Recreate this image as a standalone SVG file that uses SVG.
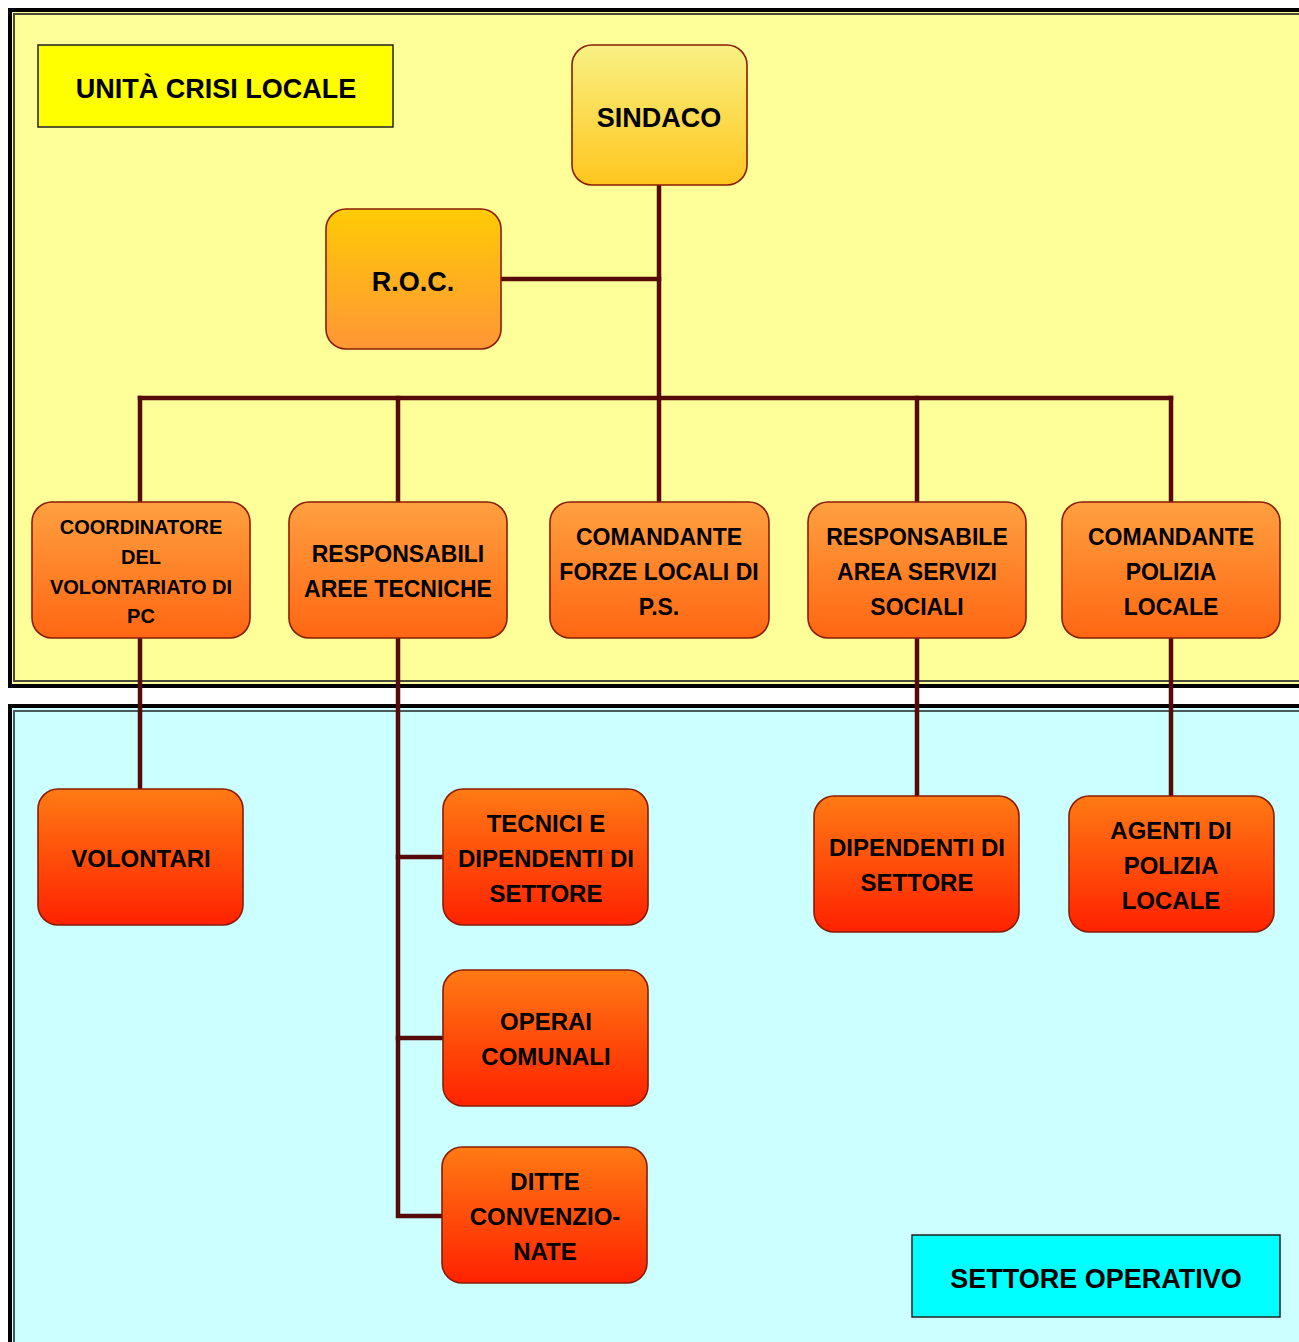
<svg xmlns="http://www.w3.org/2000/svg" width="1299" height="1342" viewBox="0 0 1299 1342">
<defs>
<linearGradient id="gSindaco" x1="0" y1="0" x2="0" y2="1"><stop offset="0" stop-color="#F8F184"/><stop offset="1" stop-color="#FFC61E"/></linearGradient>
<linearGradient id="gRoc" x1="0" y1="0" x2="0" y2="1"><stop offset="0" stop-color="#FFCB05"/><stop offset="1" stop-color="#FF9636"/></linearGradient>
<linearGradient id="gMid" x1="0" y1="0" x2="0" y2="1"><stop offset="0" stop-color="#FFA040"/><stop offset="1" stop-color="#FF6612"/></linearGradient>
<linearGradient id="gLow" x1="0" y1="0" x2="0" y2="1"><stop offset="0" stop-color="#FF7A14"/><stop offset="1" stop-color="#FF2200"/></linearGradient>
</defs>
<style>
text{font-family:"Liberation Sans",Arial,sans-serif;font-weight:bold;fill:#000;text-anchor:middle}
.box{stroke:#8A1C06;stroke-width:1.6}
.lbl{stroke:#222;stroke-width:1.5}
.t27{font-size:27px}
.t23{font-size:23px}
.t24{font-size:24px}
.t20{font-size:20px}
.conn{stroke:#560A0A;stroke-width:4.5;fill:none;stroke-linecap:square}
</style>
<rect width="1299" height="1342" fill="#FFFFFF"/>
<g id="panel-ucl">
<rect x="10" y="10" width="1310" height="676" fill="#FFFF99" stroke="#000" stroke-width="4"/>
<rect x="14" y="14" width="1310" height="667" fill="none" stroke="#4A4A3A" stroke-width="2"/>
</g>
<g id="panel-so">
<rect x="10" y="706" width="1310" height="660" fill="#CCFFFF" stroke="#000" stroke-width="4"/>
<rect x="14" y="711" width="1310" height="660" fill="none" stroke="#4A5A5A" stroke-width="2"/>
</g>
<g id="connectors">
<path class="conn" d="M659 185V500"/>
<path class="conn" d="M501 279H659"/>
<path class="conn" d="M140 398H1171"/>
<path class="conn" d="M140 398V502M398 398V502M917 398V502M1171 398V502"/>
<path class="conn" d="M140 638V789"/>
<path class="conn" d="M398 638V1216H442"/>
<path class="conn" d="M398 857H443M398 1038H443"/>
<path class="conn" d="M917 638V796"/>
<path class="conn" d="M1171 638V796"/>
</g>
<g id="label-ucl">
<rect class="lbl" x="38" y="45" width="355" height="82" fill="#FFFF00"/>
<text class="t27" x="216" y="98">UNITÀ CRISI LOCALE</text>
</g>
<g id="sindaco">
<rect class="box" x="572" y="45" width="175" height="140" rx="20" fill="url(#gSindaco)"/>
<text class="t27" x="659" y="127">SINDACO</text>
</g>
<g id="roc">
<rect class="box" x="326" y="209" width="175" height="140" rx="20" fill="url(#gRoc)"/>
<text class="t27" x="413" y="291">R.O.C.</text>
</g>
<g id="coordinatore">
<rect class="box" x="32" y="502" width="218" height="136" rx="20" fill="url(#gMid)"/>
<text class="t20" x="141" y="534">COORDINATORE</text>
<text class="t20" x="141" y="564">DEL</text>
<text class="t20" x="141" y="594">VOLONTARIATO DI</text>
<text class="t20" x="141" y="623">PC</text>
</g>
<g id="responsabili-aree">
<rect class="box" x="289" y="502" width="218" height="136" rx="20" fill="url(#gMid)"/>
<text class="t23" x="398" y="562">RESPONSABILI</text>
<text class="t23" x="398" y="597">AREE TECNICHE</text>
</g>
<g id="comandante-forze">
<rect class="box" x="550" y="502" width="219" height="136" rx="20" fill="url(#gMid)"/>
<text class="t23" x="659" y="545">COMANDANTE</text>
<text class="t23" x="659" y="580">FORZE LOCALI DI</text>
<text class="t23" x="659" y="615">P.S.</text>
</g>
<g id="responsabile-servizi">
<rect class="box" x="808" y="502" width="218" height="136" rx="20" fill="url(#gMid)"/>
<text class="t23" x="917" y="545">RESPONSABILE</text>
<text class="t23" x="917" y="580">AREA SERVIZI</text>
<text class="t23" x="917" y="615">SOCIALI</text>
</g>
<g id="comandante-polizia">
<rect class="box" x="1062" y="502" width="218" height="136" rx="20" fill="url(#gMid)"/>
<text class="t23" x="1171" y="545">COMANDANTE</text>
<text class="t23" x="1171" y="580">POLIZIA</text>
<text class="t23" x="1171" y="615">LOCALE</text>
</g>
<g id="volontari">
<rect class="box" x="38" y="789" width="205" height="136" rx="20" fill="url(#gLow)"/>
<text class="t24" x="141" y="867">VOLONTARI</text>
</g>
<g id="tecnici">
<rect class="box" x="443" y="789" width="205" height="136" rx="20" fill="url(#gLow)"/>
<text class="t24" x="546" y="832">TECNICI E</text>
<text class="t24" x="546" y="867">DIPENDENTI DI</text>
<text class="t24" x="546" y="902">SETTORE</text>
</g>
<g id="operai">
<rect class="box" x="443" y="970" width="205" height="136" rx="20" fill="url(#gLow)"/>
<text class="t24" x="546" y="1030">OPERAI</text>
<text class="t24" x="546" y="1065">COMUNALI</text>
</g>
<g id="ditte">
<rect class="box" x="442" y="1147" width="205" height="136" rx="20" fill="url(#gLow)"/>
<text class="t24" x="545" y="1190">DITTE</text>
<text class="t24" x="545" y="1225">CONVENZIO-</text>
<text class="t24" x="545" y="1260">NATE</text>
</g>
<g id="dipendenti">
<rect class="box" x="814" y="796" width="205" height="136" rx="20" fill="url(#gLow)"/>
<text class="t24" x="917" y="856">DIPENDENTI DI</text>
<text class="t24" x="917" y="891">SETTORE</text>
</g>
<g id="agenti">
<rect class="box" x="1069" y="796" width="205" height="136" rx="20" fill="url(#gLow)"/>
<text class="t24" x="1171" y="839">AGENTI DI</text>
<text class="t24" x="1171" y="874">POLIZIA</text>
<text class="t24" x="1171" y="909">LOCALE</text>
</g>
<g id="label-so">
<rect class="lbl" x="912" y="1235" width="368" height="82" fill="#00FFFF"/>
<text class="t27" x="1096" y="1288">SETTORE OPERATIVO</text>
</g>
</svg>
